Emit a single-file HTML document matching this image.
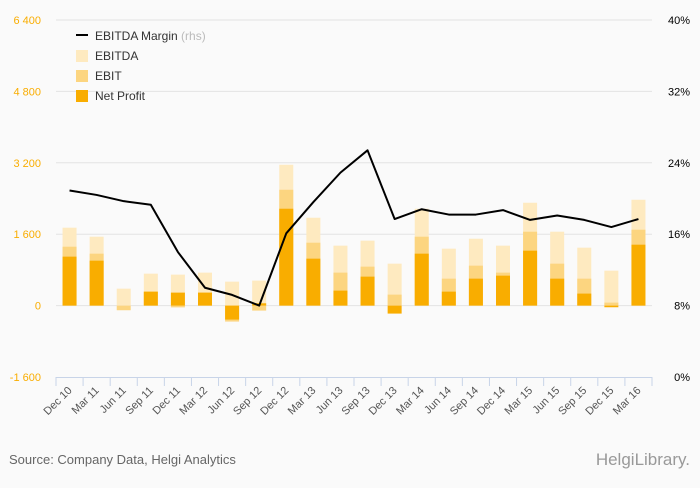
<!DOCTYPE html>
<html><head><meta charset="utf-8"><style>
body{margin:0;background:#fafafa;font-family:"Liberation Sans",sans-serif;}
svg text{font-family:"Liberation Sans",sans-serif;}
</style></head><body>
<svg id="chart" width="700" height="483" viewBox="0 0 700 483" xmlns="http://www.w3.org/2000/svg">
<rect width="700" height="483" fill="#fafafa"/>
<g id="grid"></g><g id="bars"></g><g id="line"></g><g id="axes"></g>
<g>
<line x1="76" y1="35" x2="88" y2="35" stroke="#000" stroke-width="2"/>
<text x="95" y="40" font-size="12" fill="#333">EBITDA Margin <tspan fill="#bbb">(rhs)</tspan></text>
<rect x="76" y="50" width="12" height="12" fill="#feeac0"/>
<text x="95" y="60" font-size="12" fill="#333">EBITDA</text>
<rect x="76" y="70" width="12" height="12" fill="#fcd580"/>
<text x="95" y="80" font-size="12" fill="#333">EBIT</text>
<rect x="76" y="90" width="12" height="12" fill="#f9ad00"/>
<text x="95" y="100" font-size="12" fill="#333">Net Profit</text>
</g>
<text x="9" y="464" font-size="13" fill="#666">Source: Company Data, Helgi Analytics</text>
<text x="690" y="465" font-size="17" fill="#999" text-anchor="end">HelgiLibrary.</text>
</svg>
<script>
const categories=["Dec 10","Mar 11","Jun 11","Sep 11","Dec 11","Mar 12","Jun 12","Sep 12","Dec 12","Mar 13","Jun 13","Sep 13","Dec 13","Mar 14","Jun 14","Sep 14","Dec 14","Mar 15","Jun 15","Sep 15","Dec 15","Mar 16"];
const ebitda=[1746,1544,380,716,694,739,537,560,3156,1969,1343,1455,940,2171,1276,1499,1343,2305,1656,1298,783,2372];
const ebit=[1320,1164,-104,313,-40,291,-358,-112,2596,1410,739,873,246,1544,604,895,739,1656,940,604,67,1701];
const netProfit=[1097,1007,0,313,291,291,-313,52,2171,1052,336,649,-179,1164,313,604,671,1231,604,269,-37,1365];
const margin=[20.9,20.4,19.7,19.3,14.0,10.0,9.2,8.0,16.1,19.6,22.9,25.4,17.7,18.8,18.2,18.2,18.7,17.6,18.1,17.6,16.8,17.7];
const leftTicks=[-1600,0,1600,3200,4800,6400];
const leftTickLabels=["-1 600","0","1 600","3 200","4 800","6 400"];
const rightTicks=[0,8,16,24,32,40];
const rightTickLabels=["0%","8%","16%","24%","32%","40%"];

const NS="http://www.w3.org/2000/svg";
const X0=56,X1=652,Y0=377,Y1=20;
const band=(X1-X0)/categories.length;
const xc=i=>X0+band*(i+0.5);
const yL=v=>Y0-(v+1600)/8000*(Y0-Y1);
const yR=v=>Y0-v/40*(Y0-Y1);
function mk(tag,attrs,parent){const e=document.createElementNS(NS,tag);for(const k in attrs)e.setAttribute(k,attrs[k]);parent.appendChild(e);return e;}
const grid=document.getElementById('grid'),bars=document.getElementById('bars'),line=document.getElementById('line'),axes=document.getElementById('axes');
leftTicks.forEach((t,i)=>{
  if(t!==-1600){const g=mk('line',{x1:X0,x2:X1,y1:yL(t),y2:yL(t),stroke:'#e3e3e3','stroke-width':1},grid);
  
  }
  const tx=mk('text',{x:41,y:yL(t)+4,'font-size':11,fill:'#f9ad00','text-anchor':'end'},axes);tx.textContent=leftTickLabels[i];
  
  
});
rightTicks.forEach((t,i)=>{
  const tx=mk('text',{x:690,y:yR(t)+4,'font-size':11,fill:'#000','text-anchor':'end'},axes);tx.textContent=rightTickLabels[i];
  
  
});
const ax=mk('line',{x1:X0,x2:X1,y1:Y0+0.5,y2:Y0+0.5,stroke:'#c8d4e8'},axes);


for(let i=0;i<=categories.length;i++){const tk=mk('line',{x1:X0+band*i,x2:X0+band*i,y1:Y0,y2:Y0+9,stroke:'#c8d4e8'},axes);
  
  }
categories.forEach((c,i)=>{
  const x=xc(i)+3,y=Y0+14;
  const tx=mk('text',{x:x,y:y,'font-size':11,fill:'#555','text-anchor':'end',transform:`rotate(-45 ${x} ${y})`},axes);tx.textContent=c;
  
  
});
function bar(v,i,fill,name){const y0=yL(0),y=yL(v);const r=mk('rect',{x:xc(i)-7,y:Math.min(y,y0),width:14,height:Math.abs(y-y0),fill:fill},bars);
  
  }
categories.forEach((c,i)=>{bar(ebitda[i],i,'#feeac0','bar-ebitda');bar(ebit[i],i,'#fcd580','bar-ebit');bar(netProfit[i],i,'#f9ad00','bar-net-profit');});
const pts=margin.map((m,i)=>xc(i)+','+yR(m)).join(' ');
const pl=mk('polyline',{points:pts,fill:'none',stroke:'#000','stroke-width':2,'stroke-linejoin':'round'},line);


</script>
</body></html>
